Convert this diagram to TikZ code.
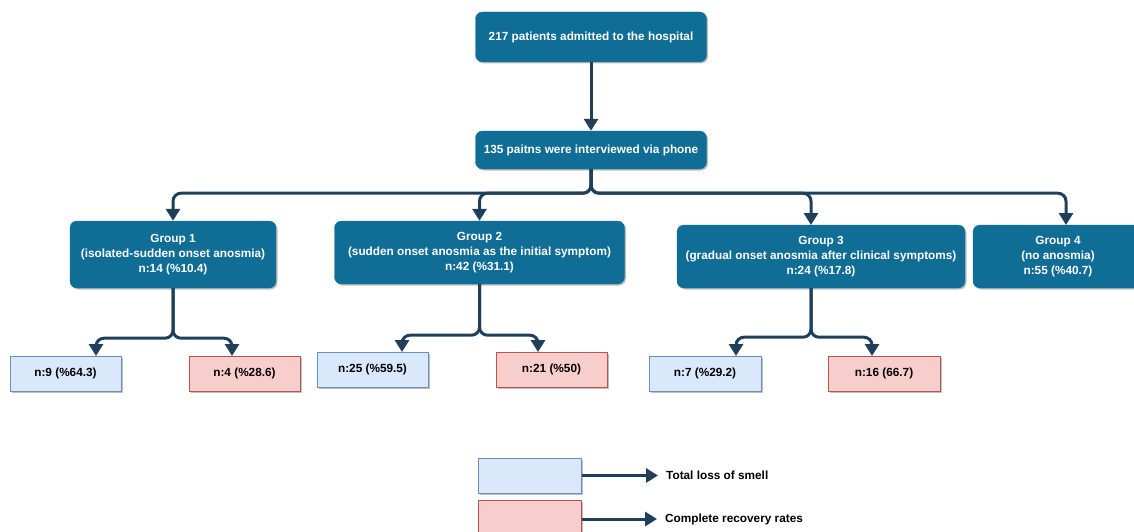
\documentclass[tikz,border=0pt]{standalone}
\usepackage{fontspec}
\setmainfont{Liberation Sans}
\usetikzlibrary{arrows.meta,shadows}

\definecolor{boxblue}{HTML}{106D96}
\definecolor{linkblue}{HTML}{1F3F5B}
\definecolor{lossfill}{HTML}{DAE8FC}
\definecolor{lossdraw}{HTML}{6C8EBF}
\definecolor{recfill}{HTML}{F8CECC}
\definecolor{recdraw}{HTML}{B85450}

\tikzset{
  boxshadow/.style={drop shadow={shadow xshift=1.5pt,shadow yshift=-1.5pt,opacity=0.25,fill=black}},
  mainbox/.style={fill=boxblue,draw=boxblue,rounded corners=7pt,text=white,align=center,
    font=\bfseries\fontsize{11.8}{15}\selectfont,boxshadow},
  lossbox/.style={fill=lossfill,draw=lossdraw,line width=1pt,minimum width=111pt,minimum height=35pt,
    font=\bfseries\fontsize{11.8}{15}\selectfont,boxshadow},
  recbox/.style={lossbox,fill=recfill,draw=recdraw},
  legtext/.style={anchor=west,inner sep=4pt,font=\bfseries\fontsize{11.8}{15}\selectfont},
  link/.style={draw=linkblue,line width=3pt,rounded corners=8pt,-{Triangle[width=14pt,length=12pt]}},
}

\begin{document}
\begin{tikzpicture}[x=1pt,y=-1pt]
\useasboundingbox (0,0) rectangle (1134,532);

%top
\node[mainbox,minimum width=231pt,minimum height=50pt] (adm) at (591,37) {217 patients admitted to the hospital};
\node[mainbox,minimum width=231pt,minimum height=38pt] (tel) at (591,150) {135 paitns were interviewed via phone};

%groups
\node[mainbox,minimum width=206pt,minimum height=67pt] (g1) at (173,254.5) {Group 1\\(isolated-sudden onset anosmia)\\n:14 (\%10.4)};
\node[mainbox,minimum width=290pt,minimum height=63pt] (g2) at (479.5,252.5) {Group 2\\(sudden onset anosmia as the initial symptom)\\n:42 (\%31.1)};
\node[mainbox,minimum width=288pt,minimum height=63pt] (g3) at (821,256.5) {Group 3\\(gradual onset anosmia after clinical symptoms)\\n:24 (\%17.8)};
\node[mainbox,minimum width=170pt,minimum height=63pt] (g4) at (1058,256.5) {Group 4\\(no anosmia)\\n:55 (\%40.7)};
\coordinate (g3in) at (811,225);
\coordinate (g4in) at (1066,225);

%outcomes
\node[lossbox] (c1a) at (65.5,373.5) {n:9 (\%64.3)};
\node[recbox]  (c1b) at (244.5,373.5) {n:4 (\%28.6)};
\node[lossbox] (c2a) at (372.5,369.5) {n:25 (\%59.5)};
\node[recbox]  (c2b) at (551.5,369.5) {n:21 (\%50)};
\node[lossbox,minimum width=112pt] (c3a) at (705,373.5) {n:7 (\%29.2)};
\node[recbox,minimum width=112pt]  (c3b) at (884,373.5) {n:16 (66.7)};
\coordinate (c1ain) at (96,356);
\coordinate (c1bin) at (232,356);
\coordinate (c2ain) at (402,352);
\coordinate (c2bin) at (538,352);
\coordinate (c3ain) at (736,356);
\coordinate (c3bin) at (872,356);

%legend
\node[lossbox,minimum width=103pt] (lg1) at (529.5,475.5) {};
\node[recbox,minimum width=103pt] (lg2) at (529.5,517.5) {};
\node[legtext] (lt1) at (662,475.5) {Total loss of smell};
\node[legtext] (lt2) at (661,519) {Complete recovery rates};

%links
\draw[link] (adm) -- (tel);
\draw[link] (tel.south) -- ++(0,24) -| (g1.north);
\draw[link] (tel.south) -- ++(0,24) -| (g2.north);
\draw[link] (tel.south) -- ++(0,24) -| (g3in);
\draw[link] (tel.south) -- ++(0,24) -| (g4in);

\draw[link] (g1.south) -- ++(0,50) -| (c1ain);
\draw[link] (g1.south) -- ++(0,50) -| (c1bin);
\draw[link] (g2.south) -- ++(0,51) -| (c2ain);
\draw[link] (g2.south) -- ++(0,51) -| (c2bin);
\draw[link] (g3in |- g3.south) -- ++(0,49) -| (c3ain);
\draw[link] (g3in |- g3.south) -- ++(0,49) -| (c3bin);

\draw[link,shorten >=4pt] (lg1.east |- lt1.west) -- (lt1.west);
\draw[link,shorten >=4pt] (lg2.east |- lt2.west) -- (lt2.west);

\end{tikzpicture}
\end{document}
